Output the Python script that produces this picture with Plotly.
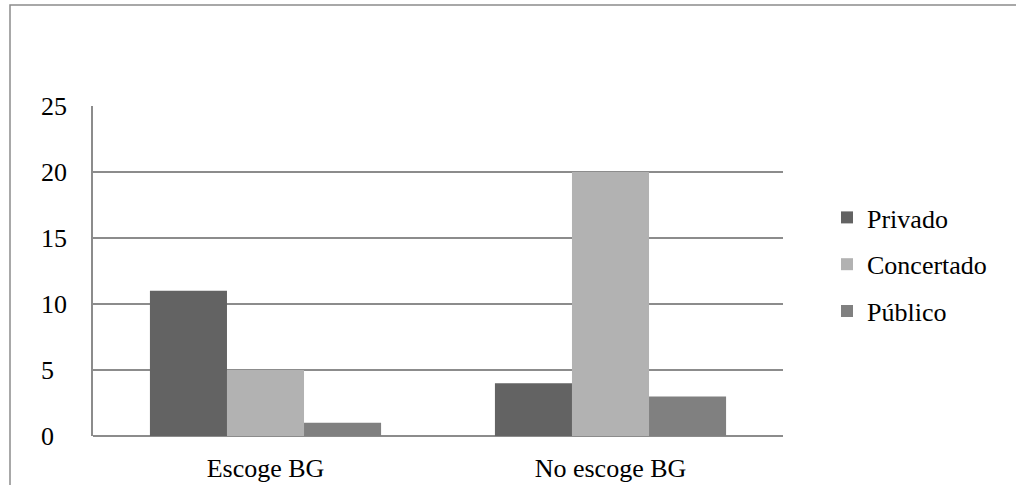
import plotly.graph_objects as go

categories = ["Escoge BG", "No escoge BG"]
privado = [11, 4]
concertado = [5, 20]
publico = [1, 3]
series_names = ["Privado", "Concertado", "Público"]
series_colors = ["#636363", "#b2b2b2", "#808080"]
y_ticks = [0, 5, 10, 15, 20, 25]

W, H = 1016, 485
L, R, T, B = 93, 233, 106, 49
pw, ph = W - L - R, H - T - B

FONT = '"Liberation Serif", "DejaVu Serif", serif'
FS = 26

fig = go.Figure()
for i, (name, vals, col) in enumerate(zip(series_names, [privado, concertado, publico], series_colors)):
    fig.add_trace(go.Bar(
        x=categories, y=vals, name=name, marker=dict(color=col, line=dict(width=0)),
        legendgroup=f"g{i}",
    ))

annotations = []
for t in y_ticks:
    annotations.append(dict(
        x=(39 - L) / pw, xref="paper", y=t, yref="y", text=str(t), showarrow=False,
        xanchor="left", yanchor="middle", font=dict(family=FONT, size=FS, color="#000000"),
    ))

fig.update_layout(
    width=W, height=H,
    margin=dict(l=L, r=R, t=T, b=B, pad=0, autoexpand=False),
    paper_bgcolor="white", plot_bgcolor="white",
    barmode="group", bargap=0.33, bargroupgap=0,
    font=dict(family=FONT, size=FS, color="#000000"),
    xaxis=dict(showgrid=False, showline=False, ticks="", tickfont=dict(size=FS),
               ticklabelstandoff=14, automargin=False),
    yaxis=dict(range=[0, 25], tickvals=y_ticks, showticklabels=False, automargin=False,
               showgrid=True, gridcolor="#8c8c8c", gridwidth=1.5,
               showline=True, linecolor="#8c8c8c", linewidth=1.5,
               zeroline=True, zerolinecolor="#8c8c8c", zerolinewidth=1.5, ticks=""),
    legend=dict(x=(827 - L) / pw, y=(436 - 194) / ph, xanchor="left", yanchor="top",
                font=dict(size=FS), tracegroupgap=10, itemwidth=30,
                bgcolor="rgba(0,0,0,0)"),
    annotations=annotations,
    shapes=[dict(type="rect", xref="paper", yref="paper",
                 x0=(10 - L) / pw, x1=(W + 20 - L) / pw,
                 y0=(436 - (H + 20)) / ph, y1=(436 - 5) / ph,
                 line=dict(color="#8c8c8c", width=1.5), fillcolor="rgba(0,0,0,0)", layer="below")],
    showlegend=True,
)

fig.write_html("out.html", config={"displayModeBar": False},
               post_script="document.body.style.margin='0';document.body.style.overflow='hidden';")
